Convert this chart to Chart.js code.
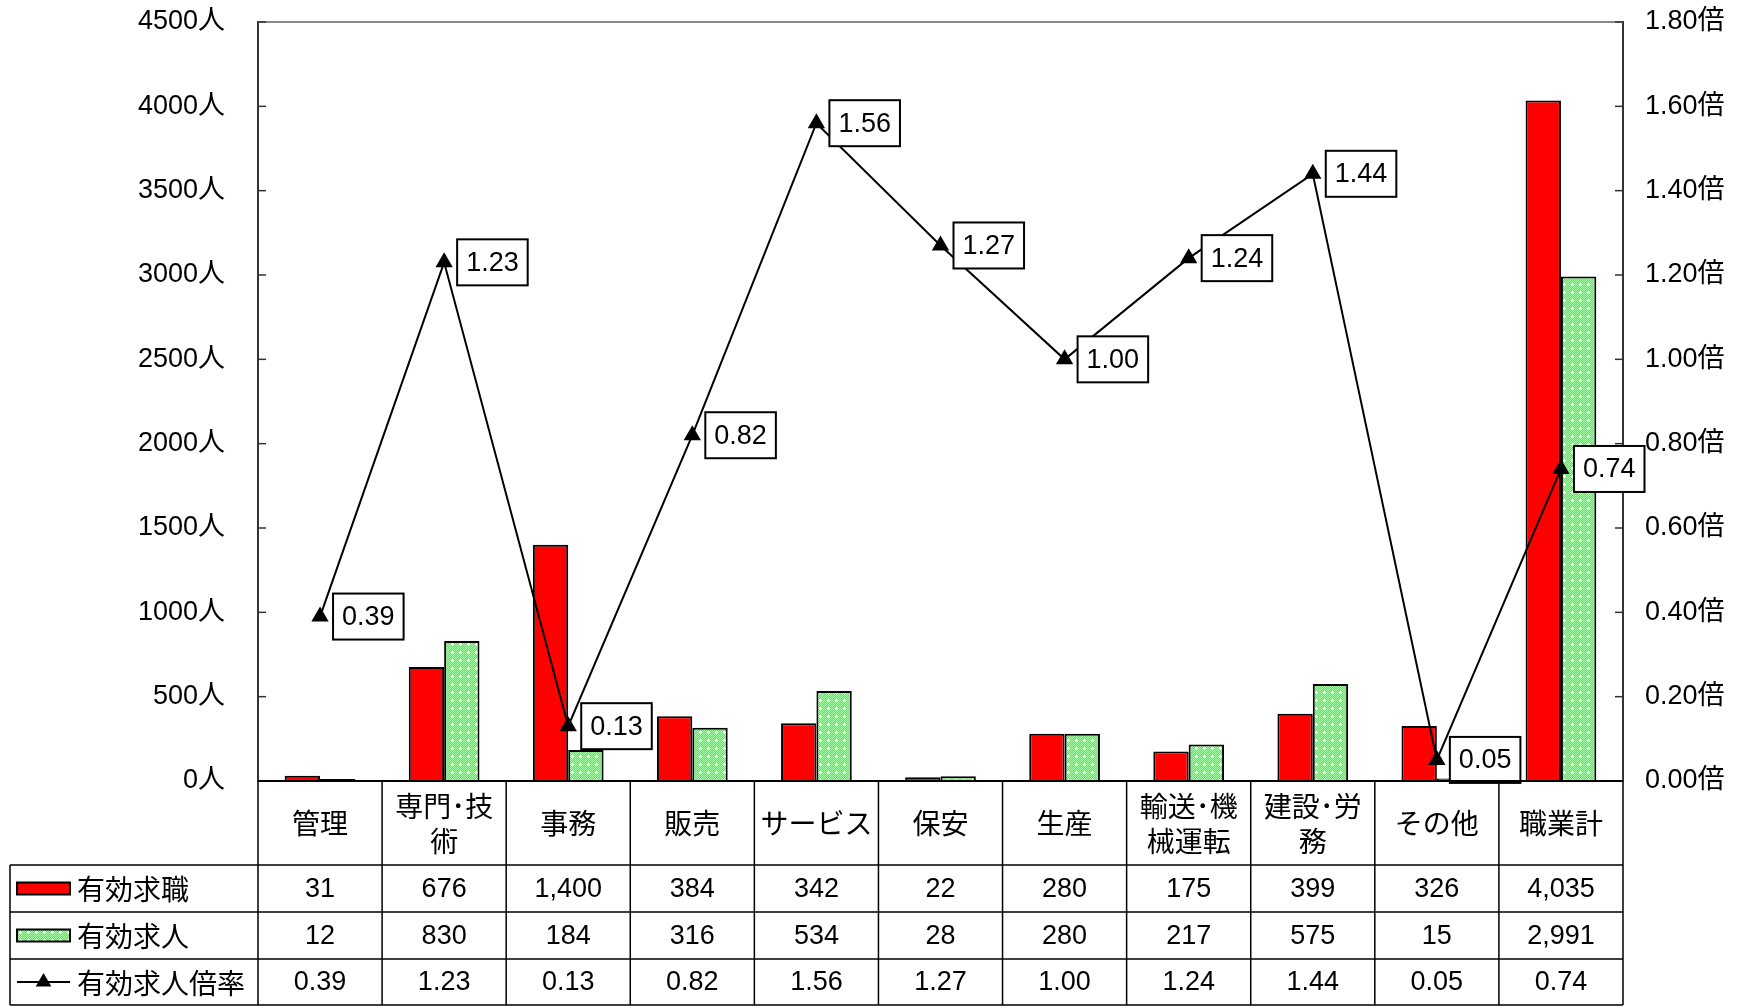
<!DOCTYPE html>
<html>
<head>
<meta charset="utf-8">
<script src="https://cdn.jsdelivr.net/npm/chart.js@4.4.0/dist/chart.umd.min.js"></script>
<style>
  html, body { margin: 0; padding: 0; background: #fff; }
  #wrap { width: 1742px; height: 1006px; }
</style>
</head>
<body>
<div id="wrap"><canvas id="chart"></canvas></div>
<script>
// 職業別 有効求職・有効求人・有効求人倍率
const categories = [['管理'], ['専門･技', '術'], ['事務'], ['販売'], ['サービス'], ['保安'], ['生産'], ['輸送･機', '械運転'], ['建設･労', '務'], ['その他'], ['職業計']]
const seekers = [31, 676, 1400, 384, 342, 22, 280, 175, 399, 326, 4035]
const openings = [12, 830, 184, 316, 534, 28, 280, 217, 575, 15, 2991]
const ratio = [0.39, 1.23, 0.13, 0.82, 1.56, 1.27, 1.00, 1.24, 1.44, 0.05, 0.74]
const seriesNames = ['有効求職', '有効求人', '有効求人倍率']

const FONT = "'Liberation Sans', 'Noto Sans CJK JP', sans-serif"
const CJK = "'Noto Sans CJK JP', 'Liberation Sans', sans-serif"

// dotted light-green fill like the original spreadsheet pattern
function makeGreenPattern() {
  const c = document.createElement('canvas')
  c.width = 8
  c.height = 8
  const g = c.getContext('2d')
  g.fillStyle = '#33ff33'
  g.fillRect(0, 0, 8, 8)
  g.fillStyle = '#a6ffa6'
  for (let y = 0; y < 8; y++) {
    for (let x = 0; x < 8; x++) {
      if ((x + y) % 2 === 0) g.fillRect(x, y, 1, 1)
    }
  }
  g.fillStyle = '#ffffff'
  g.fillRect(3, 4, 3, 1)
  g.fillRect(4, 3, 1, 3)
  return g.createPattern(c, 'repeat')
}

const canvas = document.getElementById('chart')
const ctx = canvas.getContext('2d')
const greenFill = makeGreenPattern()

function drawTriangle(c, x, y, r) {
  c.beginPath()
  c.moveTo(x, y - r)
  c.lineTo(x + r * 0.866, y + r * 0.5)
  c.lineTo(x - r * 0.866, y + r * 0.5)
  c.closePath()
  c.fill()
}

// y axes: fixed width, no label overhang padding (plot area is set by layout padding)
function fixAxis(width) {
  return s => {
    s.width = width
    s.paddingTop = 0
    s.paddingBottom = 0
  }
}

// inward tick marks + grey top border
const framePlugin = {
  id: 'frame',
  afterDraw(chart) {
    const { ctx: c, chartArea: a, scales } = chart
    c.save()
    c.strokeStyle = '#888'
    c.lineWidth = 2
    c.beginPath()
    c.moveTo(a.left, a.top)
    c.lineTo(a.right, a.top)
    c.stroke()
    c.strokeStyle = '#333'
    c.lineWidth = 1.5
    scales.y.ticks.forEach(t => {
      const py = scales.y.getPixelForValue(t.value)
      c.beginPath()
      c.moveTo(a.left, py)
      c.lineTo(a.left + 8, py)
      c.stroke()
    })
    scales.y1.ticks.forEach(t => {
      const py = scales.y1.getPixelForValue(t.value)
      c.beginPath()
      c.moveTo(a.right, py)
      c.lineTo(a.right - 8, py)
      c.stroke()
    })
    c.restore()
  }
}

// boxed value labels to the right of each ratio point
const boxLabelPlugin = {
  id: 'boxLabels',
  afterDatasetsDraw(chart) {
    const c = chart.ctx
    const meta = chart.getDatasetMeta(2)
    c.save()
    c.font = '27px ' + FONT
    c.textAlign = 'center'
    c.textBaseline = 'middle'
    meta.data.forEach((pt, i) => {
      const txt = ratio[i].toFixed(2)
      const w = c.measureText(txt).width + 18
      const h = 46
      const left = pt.x + 13
      const top = pt.y - h / 2
      c.fillStyle = '#fff'
      c.fillRect(left, top, w, h)
      c.strokeStyle = '#000'
      c.lineWidth = 2
      c.strokeRect(left, top, w, h)
      c.fillStyle = '#000'
      c.fillText(txt, left + w / 2, pt.y + 1)
    })
    c.restore()
  }
}

// data table under the plot
const tablePlugin = {
  id: 'dataTable',
  afterDraw(chart) {
    const c = chart.ctx
    const a = chart.chartArea
    const x = chart.scales.x
    const n = categories.length
    const cw = (a.right - a.left) / n
    const rows = [a.bottom, 865, 912, 959, 1005]
    const tableLeft = 10

    c.save()
    c.strokeStyle = '#000'
    c.lineWidth = 1.5
    // horizontal lines
    c.beginPath()
    c.moveTo(a.left, rows[0]); c.lineTo(a.right, rows[0])
    for (let r = 1; r < rows.length; r++) {
      c.moveTo(tableLeft, rows[r]); c.lineTo(a.right, rows[r])
    }
    // vertical lines
    for (let i = 0; i <= n; i++) {
      const px = a.left + i * cw
      c.moveTo(px, rows[0]); c.lineTo(px, rows[4])
    }
    c.moveTo(tableLeft, rows[1]); c.lineTo(tableLeft, rows[4])
    c.stroke()

    c.lineWidth = 2
    c.beginPath()
    c.moveTo(a.left, a.bottom); c.lineTo(a.right, a.bottom)
    c.stroke()

    c.fillStyle = '#000'
    c.textAlign = 'center'
    c.textBaseline = 'middle'
    // header
    c.font = '28px ' + CJK
    categories.forEach((lines, i) => {
      const cx = x.getPixelForValue(i)
      const mid = (rows[0] + rows[1]) / 2
      if (lines.length === 1) {
        c.fillText(lines[0], cx, mid)
      } else {
        c.fillText(lines[0], cx, mid - 17)
        c.fillText(lines[1], cx, mid + 18)
      }
    })
    // values
    c.font = '27px ' + FONT
    const rowVals = [
      seekers.map(v => v.toLocaleString('en-US')),
      openings.map(v => v.toLocaleString('en-US')),
      ratio.map(v => v.toFixed(2))
    ]
    rowVals.forEach((vals, r) => {
      const cy = (rows[r + 1] + rows[r + 2]) / 2 + 1
      vals.forEach((v, i) => c.fillText(v, x.getPixelForValue(i), cy))
    })

    // legend cells
    c.textAlign = 'left'
    c.font = '28px ' + CJK
    seriesNames.forEach((name, r) => {
      const cy = (rows[r + 1] + rows[r + 2]) / 2
      if (r < 2) {
        c.fillStyle = r === 0 ? '#ff0000' : greenFill
        c.fillRect(17, cy - 6, 53, 12)
        c.strokeStyle = '#000'
        c.lineWidth = 2
        c.strokeRect(17, cy - 6, 53, 12)
      } else {
        c.strokeStyle = '#000'
        c.lineWidth = 2
        c.beginPath()
        c.moveTo(17, cy); c.lineTo(70, cy)
        c.stroke()
        c.fillStyle = '#000'
        drawTriangle(c, 43.5, cy, 9)
      }
      c.fillStyle = '#000'
      c.fillText(name, 77, cy + 1)
    })
    c.restore()
  }
}

// eslint-disable-next-line no-undef
new Chart(ctx, {
  type: 'bar',
  data: {
    labels: categories,
    datasets: [
      {
        label: seriesNames[0],
        data: seekers,
        backgroundColor: '#ff0000',
        borderColor: '#000',
        borderWidth: 2,
        categoryPercentage: 0.57,
        barPercentage: 1.0,
        yAxisID: 'y',
        order: 2
      },
      {
        label: seriesNames[1],
        data: openings,
        backgroundColor: greenFill,
        borderColor: '#000',
        borderWidth: 2,
        categoryPercentage: 0.57,
        barPercentage: 1.0,
        yAxisID: 'y',
        order: 2
      },
      {
        type: 'line',
        label: seriesNames[2],
        data: ratio,
        borderColor: '#000',
        backgroundColor: '#000',
        borderWidth: 2,
        pointStyle: 'triangle',
        pointRadius: 10,
        pointBorderWidth: 0,
        tension: 0,
        fill: false,
        yAxisID: 'y1',
        order: 1
      }
    ]
  },
  options: {
    responsive: true,
    maintainAspectRatio: false,
    animation: false,
    layout: { autoPadding: false, padding: { top: 22, bottom: 225, left: 0, right: 0 } },
    plugins: {
      legend: { display: false },
      tooltip: { enabled: false }
    },
    scales: {
      x: {
        display: false,
        offset: true
      },
      y: {
        position: 'left',
        min: 0,
        max: 4500,
        ticks: {
          stepSize: 500,
          padding: 33,
          color: '#000',
          font: { size: 27, family: FONT },
          callback: v => v + '人'
        },
        grid: { display: false, drawTicks: false },
        border: { display: true, color: '#333', width: 2 },
        afterFit: fixAxis(258)
      },
      y1: {
        position: 'right',
        min: 0,
        max: 1.8,
        ticks: {
          stepSize: 0.2,
          padding: 22,
          color: '#000',
          font: { size: 27, family: FONT },
          callback: v => Number(v).toFixed(2) + '倍'
        },
        grid: { display: false, drawTicks: false },
        border: { display: true, color: '#333', width: 2 },
        afterFit: fixAxis(119)
      }
    }
  },
  plugins: [framePlugin, boxLabelPlugin, tablePlugin]
})
</script>
</body>
</html>
